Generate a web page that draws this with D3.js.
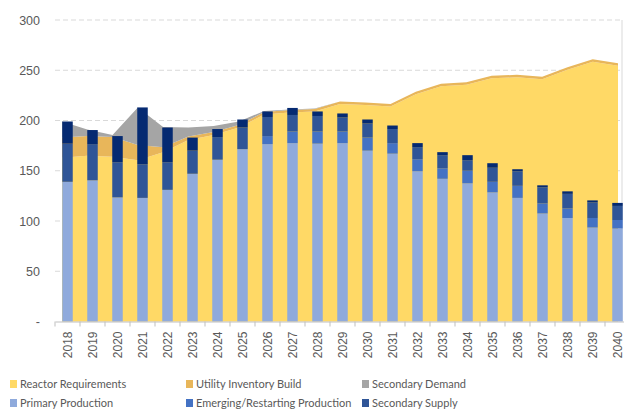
<!DOCTYPE html>
<html>
<head>
<meta charset="utf-8">
<script src="https://cdn.jsdelivr.net/npm/d3@7"></script>
<style>
  body { margin: 0; background: #fff; }
  svg { display: block; font-family: "Lato", "DejaVu Sans", sans-serif; }
  .tick text { fill: #595959; }
</style>
</head>
<body>
<svg id="chart" width="624" height="412"></svg>
<script>
const years = d3.range(2018, 2041).map(String);

// stacked areas (demand side)
const reactorRequirements = [163, 165, 164, 160.5, 168.5, 180.5, 185.5, 193, 206, 208, 209, 216.5,
  215.5, 214, 226, 234, 235.5, 242, 243, 241, 250.5, 258.5, 254.5];
const utilityInventoryBuild = [20, 19.5, 19.5, 15, 5, 3.5, 3, 2.5, 2.5, 2.5, 2.5, 2.5,
  2.5, 2.5, 2.5, 2.5, 2.5, 2.5, 2.5, 2.5, 2.5, 2.5, 2.5];
const secondaryDemand = [16, 6.5, 2, 37.5, 20, 9, 6, 3.5, 1, 0.5, 0.5, 0,
  0, 0, 0, 0, 0, 0, 0, 0, 0, 0, 0];

// stacked bars (supply side)
const primaryProduction = [139, 140.5, 123.5, 123, 131, 147, 161, 171.5, 176.5, 177.5, 177, 177.5,
  170, 167, 149.5, 142, 137.5, 128.5, 123, 107.5, 103, 93.5, 92.5];
const emergingProduction = [0, 0, 0, 0, 0, 0, 0, 0, 8, 11.5, 12, 11.5,
  13, 10.5, 12, 10.5, 12.5, 10.5, 12, 10, 9.5, 9.5, 8.5];
const secondarySupply = [38, 36, 35, 33.5, 27.5, 23, 22.5, 21.5, 19, 16.5, 15.5, 14,
  14, 14, 12, 13, 10.5, 14, 14.5, 16, 14.5, 15.5, 14];
const otherSupply = [22, 14, 26, 56.5, 34.5, 13, 8, 8, 5.5, 7, 4.5, 4,
  4, 3.5, 4, 3, 5, 4.5, 2, 2, 2.5, 2, 3];

const yTicks = [0, 50, 100, 150, 200, 250, 300];

const areaSeries = [
  { key: "reactor", name: "Reactor Requirements", values: reactorRequirements, color: "#FFD966" },
  { key: "utility", name: "Utility Inventory Build", values: utilityInventoryBuild, color: "#E8B65A" },
  { key: "secDemand", name: "Secondary Demand", values: secondaryDemand, color: "#A5A5A5" },
];
const barSeries = [
  { key: "primary", name: "Primary Production", values: primaryProduction, color: "#8FAADC" },
  { key: "emerging", name: "Emerging/Restarting Production", values: emergingProduction, color: "#4472C4" },
  { key: "secSupply", name: "Secondary Supply", values: secondarySupply, color: "#2F5597" },
  { key: "other", name: null, values: otherSupply, color: "#052A72" },
];

const svg = d3.select("#chart");
const margin = { left: 55, right: 630, top: 20, bottom: 321.5 };

const x = d3.scaleBand().domain(years).range([margin.left, margin.right]).paddingInner(0.58).paddingOuter(0.29);
const xBand = d3.scaleBand().domain(years).range([margin.left, margin.right]);
const xArea = d3.scalePoint().domain(years).range([62, 618]);
const y = d3.scaleLinear().domain([0, 300]).range([margin.bottom, margin.top]);

// gridlines
svg.append("g")
  .selectAll("line")
  .data(yTicks.filter(d => d > 0))
  .join("line")
  .attr("x1", margin.left).attr("x2", 620)
  .attr("y1", d => y(d)).attr("y2", d => y(d))
  .attr("stroke", "#d9d9d9")
  .attr("stroke-dasharray", "5,3");

// right axis line
svg.append("line")
  .attr("x1", 622).attr("x2", 622)
  .attr("y1", margin.top).attr("y2", margin.bottom)
  .attr("stroke", "#d9d9d9");

// areas
const areaRows = years.map((yr, i) => {
  const row = { year: yr };
  areaSeries.forEach(s => { row[s.key] = s.values[i]; });
  return row;
});
const areaStack = d3.stack().keys(areaSeries.map(s => s.key))(areaRows);
const area = d3.area()
  .x(d => xArea(d.data.year))
  .y0(d => y(d[0]))
  .y1(d => y(d[1]));

svg.append("g")
  .selectAll("path")
  .data(areaStack)
  .join("path")
  .attr("fill", (d, i) => areaSeries[i].color)
  .attr("d", area);

// bars
const barRows = years.map((yr, i) => {
  const row = { year: yr };
  barSeries.forEach(s => { row[s.key] = s.values[i]; });
  return row;
});
const barStack = d3.stack().keys(barSeries.map(s => s.key))(barRows);

svg.append("g")
  .selectAll("g")
  .data(barStack)
  .join("g")
  .attr("fill", (d, i) => barSeries[i].color)
  .selectAll("rect")
  .data(d => d)
  .join("rect")
  .attr("x", d => x(d.data.year))
  .attr("width", x.bandwidth())
  .attr("y", d => y(d[1]))
  .attr("height", d => y(d[0]) - y(d[1]));

// y axis
const yAxis = svg.append("g")
  .attr("transform", `translate(${margin.left},0)`)
  .call(d3.axisLeft(y).tickValues(yTicks).tickSize(0).tickPadding(15)
    .tickFormat(d => d === 0 ? "-" : d));
yAxis.select(".domain").remove();
yAxis.selectAll("text").attr("font-size", 12.5);

// x axis
const xAxis = svg.append("g")
  .attr("transform", `translate(0,${margin.bottom})`)
  .call(d3.axisBottom(xBand).tickSize(0).tickSizeOuter(0));
xAxis.select(".domain").attr("stroke", "#bfbfbf");
xAxis.selectAll(".tick line").remove();
xAxis.selectAll(".tick text")
  .attr("font-size", 12)
  .attr("text-anchor", "end")
  .attr("transform", "rotate(-90)")
  .attr("x", -10)
  .attr("y", 0)
  .attr("dy", "0.35em");

svg.append("g")
  .selectAll("line")
  .data(d3.range(years.length + 1))
  .join("line")
  .attr("x1", i => margin.left + i * xBand.step())
  .attr("x2", i => margin.left + i * xBand.step())
  .attr("y1", margin.bottom).attr("y2", margin.bottom + 5)
  .attr("stroke", "#bfbfbf");

// legend
const legendItems = [
  areaSeries[0], areaSeries[1], areaSeries[2],
  barSeries[0], barSeries[1], barSeries[2],
];
const legend = svg.append("g")
  .selectAll("g")
  .data(legendItems)
  .join("g")
  .attr("transform", (d, i) => `translate(${10 + (i % 3) * 176},${384 + Math.floor(i / 3) * 19})`);
legend.append("rect")
  .attr("x", 0).attr("y", -4).attr("width", 7).attr("height", 8)
  .attr("fill", d => d.color);
legend.append("text")
  .attr("x", 10).attr("dy", "0.35em")
  .attr("font-size", 11)
  .attr("fill", "#595959")
  .text(d => d.name);
</script>
</body>
</html>
